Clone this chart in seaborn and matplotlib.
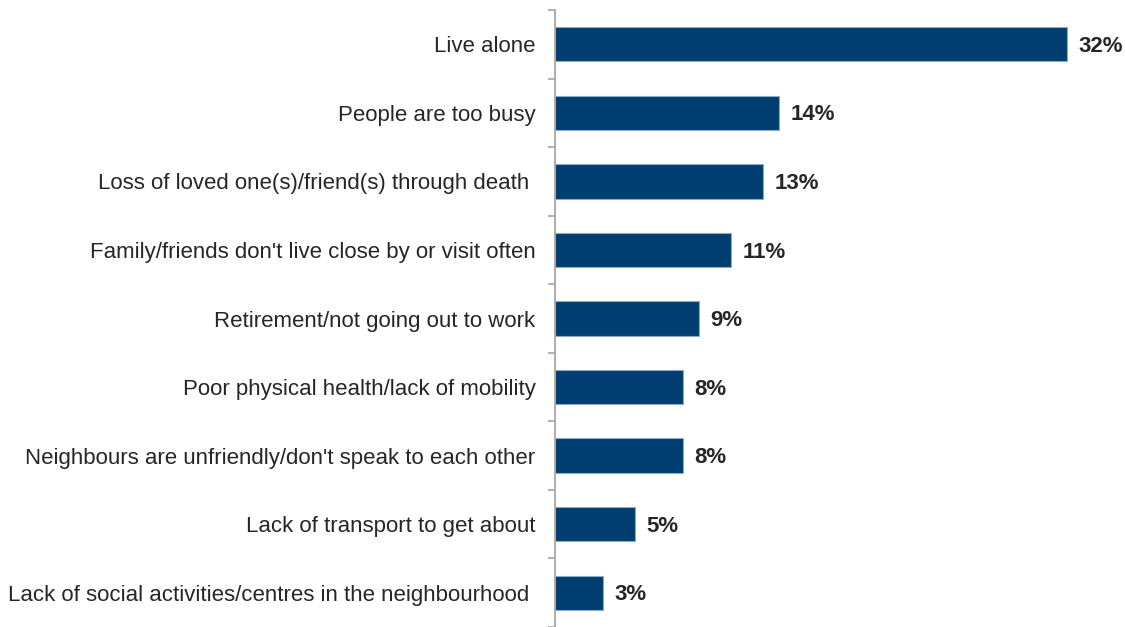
import matplotlib
matplotlib.use("Agg")
import matplotlib.pyplot as plt
import seaborn as sns
import pandas as pd

reasons = [
    "Live alone",
    "People are too busy",
    "Loss of loved one(s)/friend(s) through death ",
    "Family/friends don't live close by or visit often",
    "Retirement/not going out to work",
    "Poor physical health/lack of mobility",
    "Neighbours are unfriendly/don't speak to each other",
    "Lack of transport to get about",
    "Lack of social activities/centres in the neighbourhood ",
]
shares = [32, 14, 13, 11, 9, 8, 8, 5, 3]

df = pd.DataFrame({"reason": reasons, "share": shares})

sns.set_theme(style="white")
plt.rcParams["font.family"] = ["Liberation Sans", "DejaVu Sans"]

bar_color = "#003E72"
axis_gray = "#A6A6A6"
text_color = "#262626"

fig = plt.figure(figsize=(11.25, 6.27), dpi=100)
ax = fig.add_axes([555 / 1125, 0.0, 1 - 555 / 1125, (627 - 10) / 627])

sns.barplot(data=df, x="share", y="reason", orient="h", color=bar_color,
            width=0.5, edgecolor="#8FA8C4", linewidth=0.8, saturation=1,
            ax=ax)

ax.set_xlim(0, 570 / 16)
ax.set_ylim(8.45, -0.5)

for i, v in enumerate(shares):
    ax.text(v + 0.7, i + 0.03, f"{v}%", va="center", ha="left", fontsize=16,
            fontweight="bold", color=text_color)

ax.set_xlabel("")
ax.set_ylabel("")
ax.set_xticks([])
ax.set_yticks(range(len(reasons)))
ax.set_yticklabels(reasons, fontsize=16, color=text_color)
ax.tick_params(axis="y", which="major", length=0, pad=14)
ax.set_yticks([i - 0.5 for i in range(len(reasons) + 1)], minor=True)
ax.tick_params(axis="y", which="minor", left=True, length=5, width=1.2,
               color=axis_gray, direction="out")

for side in ["top", "right", "bottom"]:
    ax.spines[side].set_visible(False)
ax.spines["left"].set_color(axis_gray)
ax.spines["left"].set_linewidth(1.3)

fig.savefig("out.png", dpi=100)
